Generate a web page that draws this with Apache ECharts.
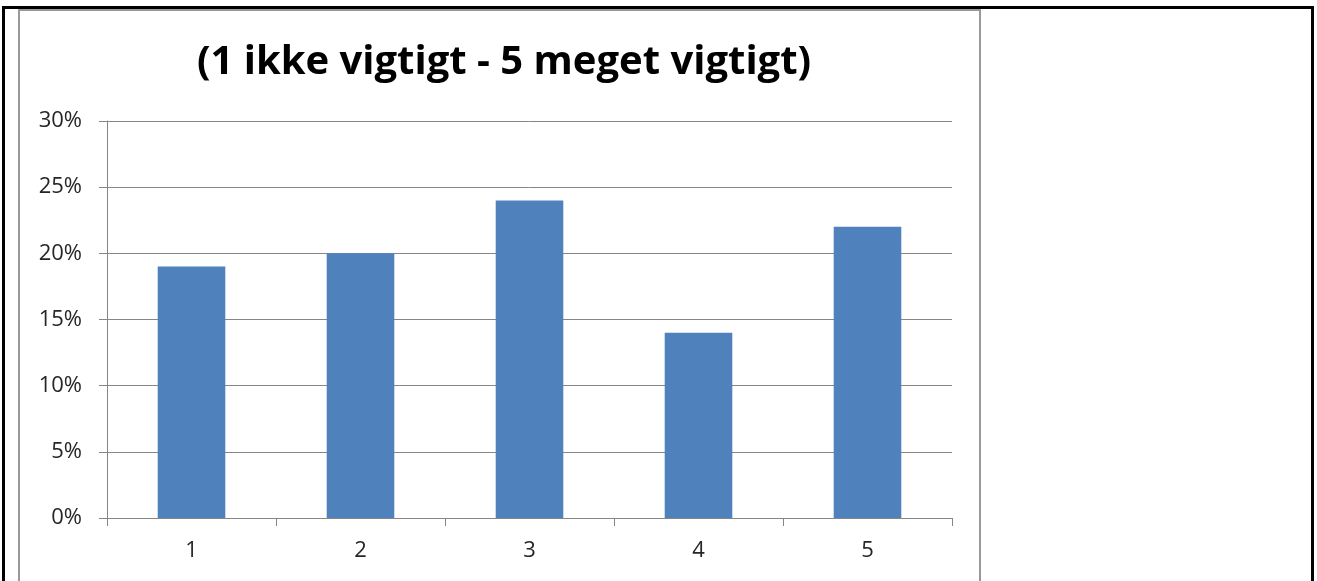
<!DOCTYPE html>
<html>
<head>
<meta charset="utf-8">
<script src="https://cdn.jsdelivr.net/npm/echarts@6/dist/echarts.min.js"></script>
<style>
html,body{margin:0;padding:0;background:#fff;}
#chart{width:1317px;height:581px;}
</style>
</head>
<body>
<div id="chart"></div>
<script>
const titleText = '(1 ikke vigtigt - 5 meget vigtigt)';
const categories = ['1', '2', '3', '4', '5'];
const values = [0.19, 0.20, 0.24, 0.14, 0.22];
const yTicks = [0, 0.05, 0.10, 0.15, 0.20, 0.25, 0.30];

const chart = echarts.init(document.getElementById('chart'), null, {renderer: 'canvas'});
chart.setOption({
  animation: false,
  backgroundColor: '#fff',
  title: {
    text: titleText,
    left: 499, top: 38, textAlign: 'center',
    textStyle: {fontFamily: 'Open Sans', fontWeight: 'bold', fontSize: 40, color: '#000'}
  },
  graphic: [
    {type: 'rect', shape: {x: 3.5, y: 7.5, width: 1309, height: 620}, style: {fill: 'none', stroke: '#000', lineWidth: 3}, z: 10},
    {type: 'rect', shape: {x: 19, y: 10, width: 961, height: 620}, style: {fill: 'none', stroke: '#999', lineWidth: 2}, z: 10}
  ],
  grid: {left: 107, right: 365, top: 121, bottom: 63},
  xAxis: {
    type: 'category',
    data: categories,
    boundaryGap: true,
    axisLine: {lineStyle: {color: '#868686', width: 1}},
    axisTick: {show: true, length: 8, lineStyle: {color: '#868686'}},
    axisLabel: {margin: 22, fontFamily: 'Open Sans', fontSize: 22, color: '#262626'}
  },
  yAxis: {
    type: 'value',
    min: yTicks[0], max: yTicks[yTicks.length - 1], interval: 0.05,
    axisLine: {show: true, lineStyle: {color: '#868686', width: 1}},
    axisTick: {show: true, length: 8, lineStyle: {color: '#868686'}},
    splitLine: {lineStyle: {color: '#868686', width: 1}},
    axisLabel: {
      margin: 25, fontFamily: 'Open Sans', fontSize: 22, color: '#262626',
      formatter: v => Math.round(v * 100) + '%'
    }
  },
  series: [{
    type: 'bar',
    data: values,
    barWidth: '40%',
    itemStyle: {color: '#4F81BD'}
  }]
});
</script>
</body>
</html>
